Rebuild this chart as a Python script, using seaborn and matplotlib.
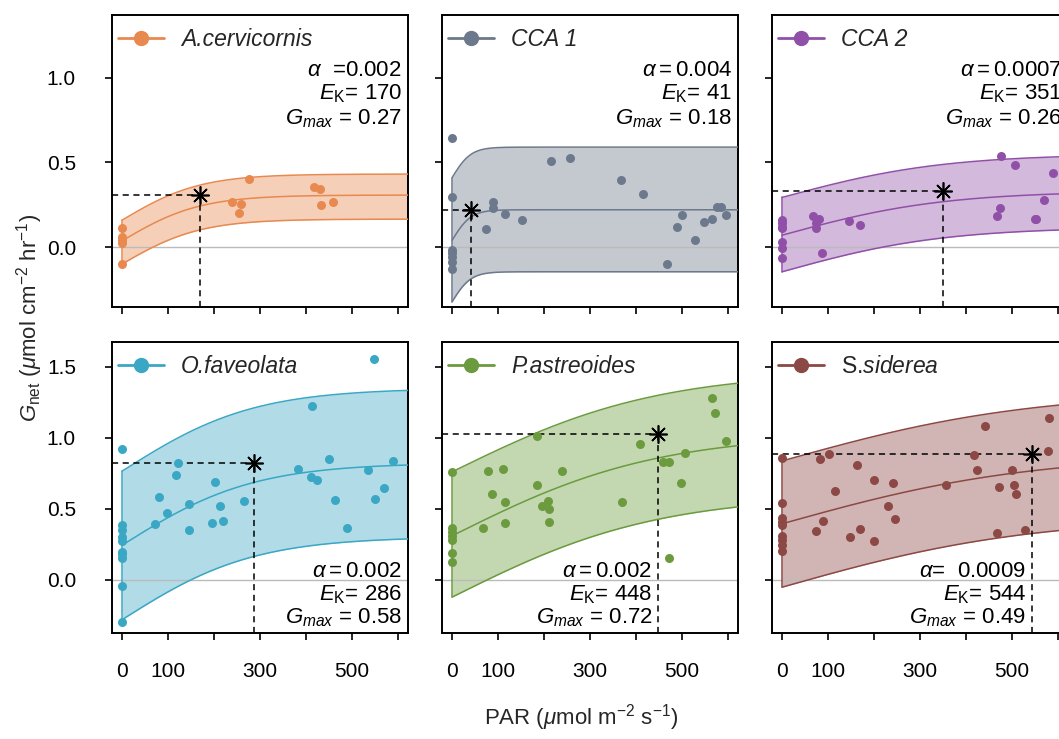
import numpy as np
import pandas as pd
import matplotlib
matplotlib.use("Agg")
import matplotlib.pyplot as plt
from matplotlib.lines import Line2D
import seaborn as sns

# ---------------- data ----------------
species = ["A.cervicornis", "CCA 1", "CCA 2", "O.faveolata", "P.astreoides", "S.siderea"]
colors = ["#E8894F", "#6C788B", "#9150A8", "#3AA7C4", "#6B9B3E", "#8C4844"]

acer_par = [0, 0, 0, 0, 0, 275, 240, 259, 254, 418, 431, 432, 458]
acer_g = [0.110, 0.057, 0.041, 0.026, -0.102, 0.40, 0.264, 0.254, 0.199, 0.356, 0.345, 0.25, 0.268]

cca1_par = [0, 0, 0, 0, 0, 0, 0, 88, 89, 73, 115, 152, 216, 256, 367, 416, 468, 490, 500,
            529, 547, 565, 576, 585, 596]
cca1_g = [0.642, 0.297, -0.018, -0.037, -0.057, -0.087, -0.132, 0.264, 0.228, 0.108, 0.197,
          0.157, 0.506, 0.524, 0.396, 0.311, -0.102, 0.12, 0.187, 0.041, 0.15, 0.165, 0.236,
          0.236, 0.189]

cca2_par = [0, 0, 0, 0, 0, 0, 0, 67, 73, 74, 81, 87, 146, 169, 476, 506, 475, 467, 550, 553,
            570, 590]
cca2_g = [0.159, 0.140, 0.12, 0.11, 0.031, -0.008, -0.067, 0.185, 0.14, 0.112, 0.163, -0.033,
          0.156, 0.13, 0.537, 0.486, 0.232, 0.185, 0.167, 0.167, 0.276, 0.437]

ofav_par = [0, 0, 0, 0, 0, 0, 0, 0, 0, 0, 71, 80, 97, 121, 118, 145, 145, 195, 203, 212, 220,
            266, 383, 413, 410, 423, 450, 464, 489, 535, 548, 551, 569, 590]
ofav_g = [0.92, 0.386, 0.351, 0.304, 0.276, 0.199, 0.183, 0.155, -0.042, -0.30, 0.393, 0.581,
          0.471, 0.82, 0.738, 0.351, 0.534, 0.403, 0.691, 0.518, 0.412, 0.557, 0.778, 1.222,
          0.726, 0.703, 0.848, 0.562, 0.363, 0.773, 1.555, 0.569, 0.649, 0.834]

past_par = [0, 0, 0, 0, 0, 0, 0, 68, 79, 86, 110, 115, 115, 185, 185, 195, 208, 211, 211, 240,
            370, 409, 458, 471, 471, 498, 507, 565, 571, 596]
past_g = [0.761, 0.363, 0.34, 0.309, 0.281, 0.192, 0.122, 0.365, 0.766, 0.604, 0.778, 0.546,
          0.403, 1.012, 0.67, 0.522, 0.555, 0.501, 0.408, 0.77, 0.548, 0.956, 0.831, 0.827,
          0.152, 0.679, 0.892, 1.281, 1.176, 0.977]

ssid_par = [0, 0, 0, 0, 0, 0, 0, 0, 0, 73, 82, 89, 103, 116, 148, 164, 169, 199, 200, 231, 241,
            245, 356, 417, 423, 441, 468, 471, 500, 504, 508, 529, 578, 580]
ssid_g = [0.859, 0.539, 0.433, 0.41, 0.386, 0.309, 0.281, 0.246, 0.206, 0.344, 0.85, 0.412,
          0.885, 0.623, 0.30, 0.81, 0.356, 0.274, 0.705, 0.518, 0.679, 0.429, 0.665, 0.88, 0.775,
          1.082, 0.328, 0.653, 0.773, 0.67, 0.607, 0.349, 0.907, 1.138]

par_data = [acer_par, cca1_par, cca2_par, ofav_par, past_par, ssid_par]
g_data = [acer_g, cca1_g, cca2_g, ofav_g, past_g, ssid_g]

# fitted tanh P-I model: G = Gmax * tanh(PAR / Ek) + R
gmax = [0.27, 0.18, 0.26, 0.58, 0.72, 0.49]
ek = [170, 41, 351, 286, 448, 544]
intercept = [0.037, 0.04, 0.07, 0.244, 0.31, 0.395]
upper_r = [0.159, 0.41, 0.293, 0.766, 0.761, 0.838]
upper_gmax = [0.272, 0.18, 0.256, 0.584, 0.708, 0.49]
lower_r = [-0.10, -0.323, -0.146, -0.281, -0.122, -0.052]
lower_gmax = [0.265, 0.177, 0.263, 0.584, 0.72, 0.497]

alpha_labels = [r"$\alpha$  =0.002", r"$\alpha = $0.004", r"$\alpha = $0.0007",
                r"$\alpha = $0.002", r"$\alpha = $0.002", r"$\alpha$=  0.0009"]
ek_labels = ["170", "41", "351", "286", "448", "544"]
gmax_labels = ["0.27", "0.18", "0.26", "0.58", "0.72", "0.49"]

x_ticks = [0, 100, 200, 300, 400, 500, 600]
x_ticklabels = ["0", "100", "", "300", "", "500", ""]

# ---------------- style ----------------
sns.set_style("ticks")
plt.rcParams["font.family"] = ["Liberation Sans", "DejaVu Sans"]
plt.rcParams["mathtext.fontset"] = "custom"
plt.rcParams["mathtext.rm"] = "Liberation Sans"
plt.rcParams["mathtext.it"] = "Liberation Sans:italic"
plt.rcParams["mathtext.bf"] = "Liberation Sans:bold"

fig = plt.figure(figsize=(10.59, 7.39), dpi=100)
W, H = 1059.0, 739.0
col_left = [112, 442, 772]
ax_w = 296
rows = [(15, 307), (342, 633)]

xlim = (-22, 622)
ylims = [(-0.354, 1.37), (-0.375, 1.676)]
yticks = [[0, 0.5, 1.0], [0, 0.5, 1.0, 1.5]]

xs = np.linspace(0, 660, 400)
fs = 15
fs_txt = 16

for i, sp in enumerate(species):
    r, c = divmod(i, 3)
    top, bot = rows[r]
    ax = fig.add_axes([col_left[c] / W, 1 - bot / H, ax_w / W, (bot - top) / H])
    col = colors[i]

    mean_c = gmax[i] * np.tanh(xs / ek[i]) + intercept[i]
    up_c = upper_gmax[i] * np.tanh(xs / ek[i]) + upper_r[i]
    lo_c = lower_gmax[i] * np.tanh(xs / ek[i]) + lower_r[i]

    ax.fill_between(xs, lo_c, up_c, color=col, alpha=0.4, linewidth=0, zorder=1)
    ax.axhline(0, color="#BBBBBB", lw=1.0, zorder=2)
    ax.plot([0, 0], [lo_c[0], up_c[0]], color=col, lw=1.1, zorder=3)
    sns.lineplot(x=xs, y=up_c, ax=ax, color=col, lw=1.1, estimator=None, zorder=3)
    sns.lineplot(x=xs, y=lo_c, ax=ax, color=col, lw=1.1, estimator=None, zorder=3)
    sns.lineplot(x=xs, y=mean_c, ax=ax, color=col, lw=1.1, estimator=None, zorder=3)

    df = pd.DataFrame({"PAR": par_data[i], "G": g_data[i]})
    sns.scatterplot(data=df, x="PAR", y="G", ax=ax, color=col, s=42, linewidth=0,
                    zorder=5, legend=False)

    ymin = ylims[r][0]
    star_y = gmax[i] + intercept[i]
    ax.plot([xlim[0], ek[i]], [star_y, star_y], color="black", lw=1.1,
            dashes=(4, 3), zorder=4)
    ax.plot([ek[i], ek[i]], [ymin, star_y], color="black", lw=1.1,
            dashes=(4, 3), zorder=4)
    ax.plot([ek[i]], [star_y], marker=(8, 2, 0), color="black", ms=13, mew=1.2, zorder=6)

    ax.set_xlim(*xlim)
    ax.set_ylim(*ylims[r])
    ax.set_xticks(x_ticks)
    ax.set_yticks(yticks[r])
    if r == 1:
        ax.set_xticklabels(x_ticklabels)
    else:
        ax.set_xticklabels([])
    if c == 0:
        ax.set_yticklabels([f"{v:.1f}" for v in yticks[r]])
    else:
        ax.set_yticklabels([])
    ax.set_xlabel("")
    ax.set_ylabel("")
    ax.tick_params(axis="both", direction="out", length=5, width=1.2, labelsize=fs,
                   color="black", labelcolor="black")
    ax.tick_params(axis="x", pad=16)
    ax.tick_params(axis="y", pad=21)
    for s in ax.spines.values():
        s.set_visible(True)
        s.set_linewidth(1.4)
        s.set_color("black")

    # legend
    if sp == "S.siderea":
        lab = r"S.$\mathit{siderea}$"
    else:
        lab = sp
    h = Line2D([0], [0], color=col, lw=2, marker="o", ms=10)
    leg = ax.legend([h], [lab], loc="upper left", bbox_to_anchor=(-0.015, 0.99),
                    frameon=False, fontsize=16.5, handlelength=2.0, handletextpad=0.75,
                    borderaxespad=0.15, borderpad=0.3)
    for t in leg.get_texts():
        if sp != "S.siderea":
            t.set_fontstyle("italic")

    # annotation text
    if r == 0:
        ys = [0.791, 0.711, 0.626]
        xpos = 1 - 6 / ax_w
    else:
        ys = [0.191, 0.111, 0.033]
        if sp == "O.faveolata":
            xpos = 1 - 6 / ax_w
        else:
            xpos = (ek[i] - 13 - xlim[0]) / (xlim[1] - xlim[0])
    lines = [alpha_labels[i], r"$E_{\mathrm{K}}$= " + ek_labels[i],
             r"$G_{max}$ = " + gmax_labels[i]]
    for yy, txt in zip(ys, lines):
        ax.text(xpos, yy, txt, transform=ax.transAxes, ha="right", va="baseline",
                fontsize=fs_txt, color="black", zorder=7)

fig.text(581 / W, 1 - 718 / H, r"PAR ($\mu$mol m$^{-2}$ s$^{-1}$)", ha="center",
         va="center", fontsize=16)
fig.text(30 / W, 1 - 318 / H, r"$G_{\mathrm{net}}$ ($\mu$mol cm$^{-2}$ hr$^{-1}$)",
         ha="center", va="center", rotation=90, fontsize=16)

fig.savefig("out.png", dpi=100)
